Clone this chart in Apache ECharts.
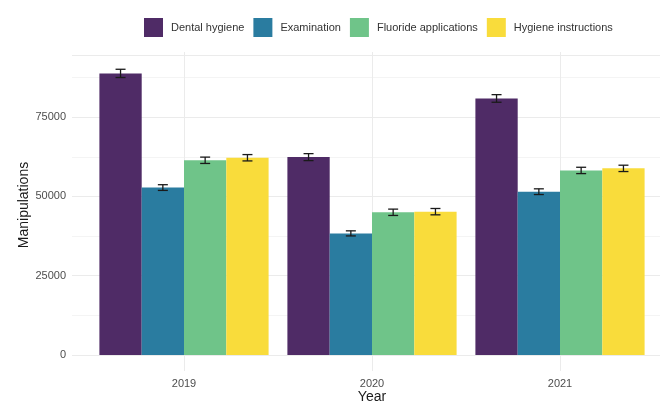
<!DOCTYPE html>
<html>
<head>
<meta charset="utf-8">
<script src="https://cdn.jsdelivr.net/npm/echarts@6/dist/echarts.min.js"></script>
<style>
  html, body { margin: 0; padding: 0; background: #fff; }
  #chart { width: 671px; height: 403px; }
</style>
</head>
<body>
<div id="chart"></div>
<script>
// Yearly counts of preventive dental manipulations, mean with error margin
const years = ['2019', '2020', '2021'];
const seriesNames = ['Dental hygiene', 'Examination', 'Fluoride applications', 'Hygiene instructions'];
const dentalHygiene = [88800, 62400, 80900];
const examination = [52800, 38350, 51500];
const fluorideApplications = [61400, 45000, 58200];
const hygieneInstructions = [62200, 45200, 58850];
const dentalHygieneErr = [1300, 1100, 1200];
const examinationErr = [900, 800, 900];
const fluorideApplicationsErr = [1000, 1000, 1000];
const hygieneInstructionsErr = [1000, 1000, 1000];
const yTicks = [0, 25000, 50000, 75000];

const values = [dentalHygiene, examination, fluorideApplications, hygieneInstructions];
const errors = [dentalHygieneErr, examinationErr, fluorideApplicationsErr, hygieneInstructionsErr];
const colors = ['#4f2b66', '#2a7ca0', '#6fc489', '#f9dc3b'];

const yMax = 94600;
const font = 'Liberation Sans, Arial, sans-serif';

const chart = echarts.init(document.getElementById('chart'), null, { renderer: 'canvas' });

const barSeries = seriesNames.map((name, i) => ({
  name: name,
  type: 'bar',
  xAxisIndex: 0,
  yAxisIndex: 0,
  data: values[i],
  barGap: '0%',
  barCategoryGap: '10%',
  itemStyle: { color: colors[i] },
  emphasis: { disabled: true },
  z: 3
}));

// Error bars drawn over each dodged bar
const errData = [];
years.forEach((y, c) => {
  seriesNames.forEach((n, s) => {
    errData.push([c, values[s][c], errors[s][c], s]);
  });
});

const errSeries = {
  type: 'custom',
  xAxisIndex: 0,
  yAxisIndex: 0,
  data: errData,
  z: 5,
  silent: true,
  renderItem: function (params, api) {
    const c = api.value(0), v = api.value(1), e = api.value(2), s = api.value(3);
    const band = api.size([1, 0])[0];
    const bw = band * 0.9 / 4;
    const center = api.coord([c, v]);
    const x = center[0] + (s - 1.5) * bw;
    const top = api.coord([c, v + e])[1];
    const bot = api.coord([c, v - e])[1];
    const cap = 5;
    const style = { stroke: '#1a1a1a', lineWidth: 1.3 };
    return {
      type: 'group',
      children: [
        { type: 'line', shape: { x1: x, y1: top, x2: x, y2: bot }, style: style },
        { type: 'line', shape: { x1: x - cap, y1: top, x2: x + cap, y2: top }, style: style },
        { type: 'line', shape: { x1: x - cap, y1: bot, x2: x + cap, y2: bot }, style: style }
      ]
    };
  }
};

chart.setOption({
  animation: false,
  backgroundColor: '#ffffff',
  textStyle: { fontFamily: font },
  legend: {
    data: seriesNames,
    top: 13,
    left: 139,
    itemWidth: 19,
    itemHeight: 19,
    itemGap: 9,
    icon: 'rect',
    textStyle: { fontSize: 11, color: '#333', fontFamily: font, padding: [0, 0, 0, 3] }
  },
  grid: [
    // bars
    { left: 90, right: 17, top: 55, bottom: 48, outerBoundsMode: 'none', containLabel: false },
    // horizontal grid lines
    { left: 72, right: 11, top: 55, bottom: 48, outerBoundsMode: 'none', containLabel: false },
    // vertical grid lines at category centres
    { left: 184, right: 111, top: 52, bottom: 32, outerBoundsMode: 'none', containLabel: false }
  ],
  xAxis: [
    {
      type: 'category', gridIndex: 0, data: years,
      axisLine: { show: false }, axisTick: { show: false },
      axisLabel: { margin: 23, fontSize: 11, color: '#4d4d4d' },
      splitLine: { show: false },
      name: 'Year', nameLocation: 'middle', nameGap: 35, nameMoveOverlap: false,
      nameTextStyle: { fontSize: 14, color: '#1a1a1a' }
    },
    { type: 'value', gridIndex: 1, min: 0, max: 1, show: false },
    {
      type: 'category', gridIndex: 2, data: years, boundaryGap: false,
      axisLine: { show: false }, axisTick: { show: false }, axisLabel: { show: false },
      splitLine: { show: true, lineStyle: { color: '#ebebeb', width: 1 } }
    }
  ],
  yAxis: [
    {
      type: 'value', gridIndex: 0, min: 0, max: yMax, interval: 25000,
      axisLine: { show: false }, axisTick: { show: false },
      axisLabel: {
        margin: 24, fontSize: 11, color: '#4d4d4d',
        formatter: function (v) { return yTicks.indexOf(v) >= 0 ? String(v) : ''; }
      },
      splitLine: { show: false },
      name: 'Manipulations', nameLocation: 'middle', nameGap: 59, nameMoveOverlap: false,
      nameTextStyle: { fontSize: 14, color: '#1a1a1a' }
    },
    {
      type: 'value', gridIndex: 1, min: 0, max: yMax, interval: 25000,
      axisLine: { show: false }, axisTick: { show: false }, axisLabel: { show: false },
      splitLine: { show: true, lineStyle: { color: '#ebebeb', width: 1 } },
      minorTick: { show: false, splitNumber: 2 },
      minorSplitLine: { show: true, lineStyle: { color: '#f4f4f4', width: 1 } }
    },
    { type: 'value', gridIndex: 2, min: 0, max: 1, show: false }
  ],
  series: barSeries.concat([errSeries])
});
</script>
</body>
</html>
